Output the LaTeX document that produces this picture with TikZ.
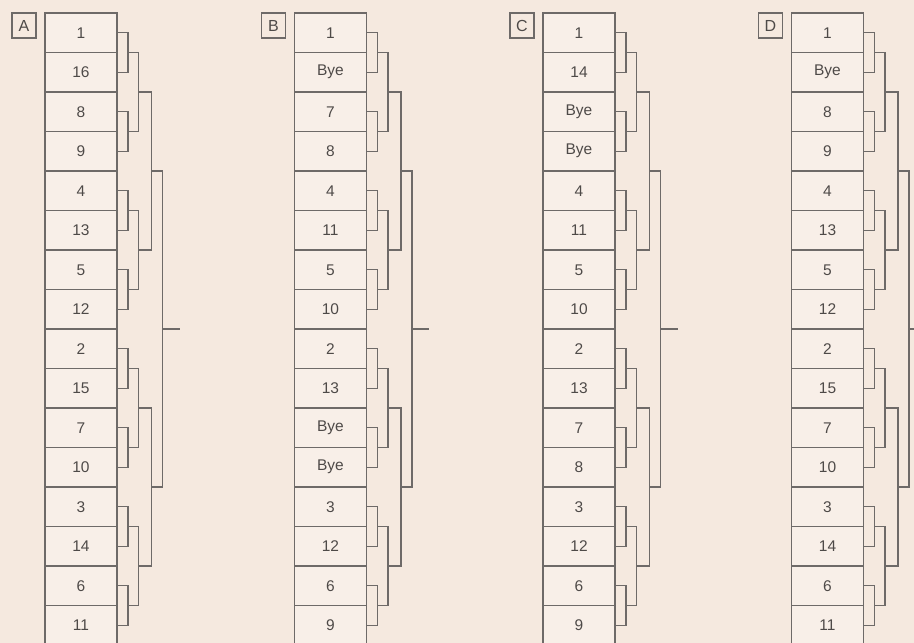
\documentclass[tikz,border=0pt]{standalone}
\usepackage{fontspec}
\setsansfont{Liberation Sans}
\usetikzlibrary{positioning, calc}
\definecolor{paper}{RGB}{245,233,223}
\definecolor{cell}{RGB}{248,239,232}
\definecolor{ink}{RGB}{110,106,104}
\definecolor{print}{RGB}{78,74,72}

\begin{document}
\begin{tikzpicture}[
    x=1pt, y=-1pt,
    seedbox/.style={rectangle, draw=ink, fill=cell, line width=1.3pt, minimum width=72pt, minimum height=39.5pt, inner sep=0pt, outer sep=0pt, text=print, font=\sffamily\fontsize{15.5}{15.5}\selectfont},
    tagbox/.style={rectangle, draw=ink, line width=1.3pt, minimum width=24pt, minimum height=25pt, inner sep=0pt, outer sep=0pt, text=print, font=\sffamily\fontsize{16}{16}\selectfont},
    bracket/.style={draw=ink, line width=1.3pt},
]
\clip (0,0) rectangle (914,643);
\fill[paper] (0,0) rectangle (914,643);

\foreach \p/\xl/\seeds in {
    A/45/{1,16,8,9,4,13,5,12,2,15,7,10,3,14,6,11},
    B/294.5/{1,Bye,7,8,4,11,5,10,2,13,Bye,Bye,3,12,6,9},
    C/543/{1,14,Bye,Bye,4,11,5,10,2,13,7,8,3,12,6,9},
    D/791.5/{1,Bye,8,9,4,13,5,12,2,15,7,10,3,14,6,11}} {
  % panel letter and seed column
  \node[tagbox, anchor=north east] (tag\p) at (\xl-9, 13) {\p};
  \foreach \s [count=\i] in \seeds {
    \node[seedbox, anchor=north west] (\p\i) at (\xl, 13+39.5*\i-39.5) {\s};
  }
  % first round
  \foreach \k in {1,...,8} {
    \pgfmathtruncatemacro\ta{2*\k-1}
    \pgfmathtruncatemacro\tb{2*\k}
    \draw[bracket] (\p\ta.east) -- ++(11,0) |- (\p\tb.east);
    \coordinate (\p-1-\k) at ($(\p\ta.east)!0.5!(\p\tb.east)+(11,0)$);
  }
  % later rounds
  \foreach \r/\q/\n/\dx in {2/1/4/10.5, 3/2/2/13, 4/3/1/11} {
    \foreach \k in {1,...,\n} {
      \pgfmathtruncatemacro\ta{2*\k-1}
      \pgfmathtruncatemacro\tb{2*\k}
      \draw[bracket] (\p-\q-\ta) -- ++(\dx,0) |- (\p-\q-\tb);
      \coordinate (\p-\r-\k) at ($(\p-\q-\ta)!0.5!(\p-\q-\tb)+(\dx,0)$);
    }
  }
  \coordinate (win\p) at ($(\p-4-1)+(17,0)$);
  \draw[bracket] (\p-4-1) -- (win\p);
}
\end{tikzpicture}
\end{document}
